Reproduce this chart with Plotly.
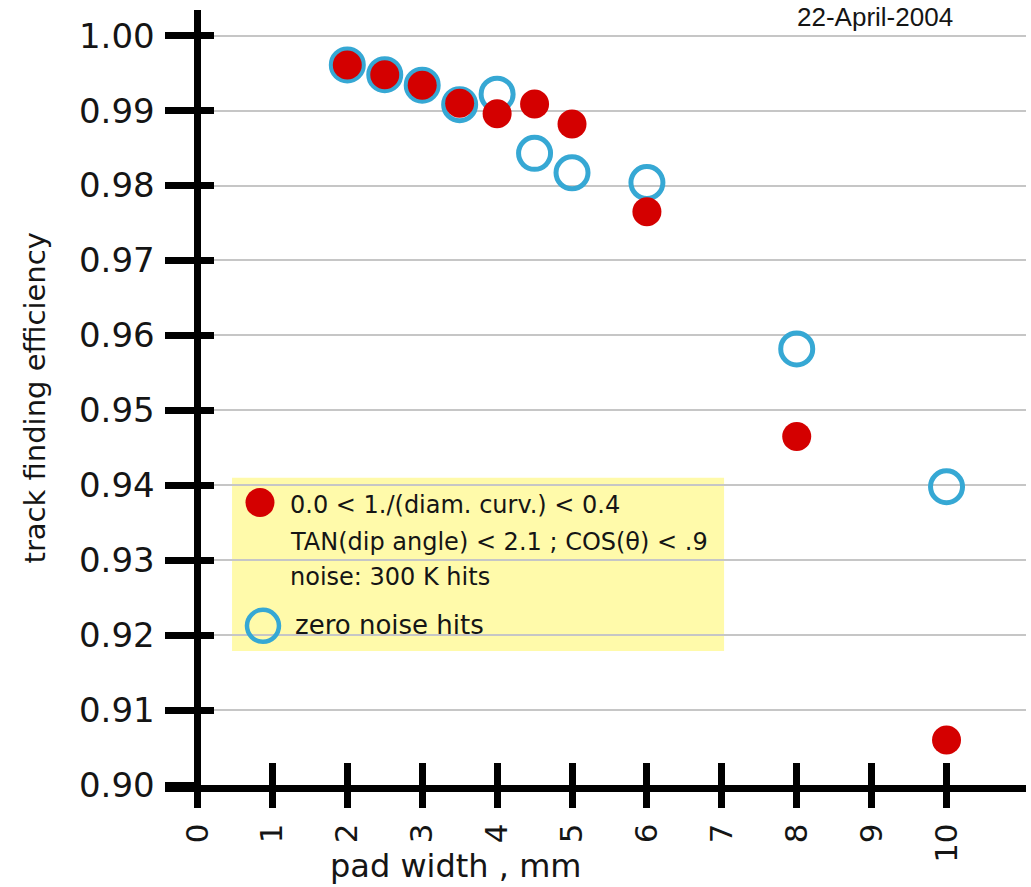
import plotly.graph_objects as go

# ---- data ----
pad_width = [2, 2.5, 3, 3.5, 4, 4.5, 5, 6, 8, 10]
eff_noise_300k = [0.9961, 0.9948, 0.9934, 0.9910, 0.9896, 0.9909, 0.9882, 0.9765, 0.9465, 0.9060]
eff_zero_noise = [0.9961, 0.9948, 0.9934, 0.9908, 0.9922, 0.9843, 0.9817, 0.9804, 0.9582, 0.9398]
x_tick_vals = [0, 1, 2, 3, 4, 5, 6, 7, 8, 9, 10]
y_tick_vals = [0.90, 0.91, 0.92, 0.93, 0.94, 0.95, 0.96, 0.97, 0.98, 0.99, 1.00]
y_tick_text = ["0.90", "0.91", "0.92", "0.93", "0.94", "0.95", "0.96", "0.97", "0.98", "0.99", "1.00"]
legend_lines = ["0.0 < 1./(diam. curv.) < 0.4",
                "TAN(dip angle) < 2.1 ; COS(θ) < .9",
                "noise: 300 K hits"]
legend_zero = "zero noise hits"
date_text = "22-April-2004"
x_title = "pad width , mm"
y_title = "track finding efficiency"

RED = "#d40000"
BLUE = "#36a8d4"
YELLOW = "#fffaaa"
FONT = "DejaVu Sans"
TXT = "#151515"

X_RANGE = [-0.434, 11.061]
Y_RANGE = [0.90, 1.00343]
YPOS = 0.0377

fig = go.Figure()
fig.add_trace(go.Scatter(
    x=pad_width, y=eff_zero_noise, mode="markers", name=legend_zero,
    marker=dict(symbol="circle-open", size=32, color=BLUE, line=dict(width=5, color=BLUE)),
    showlegend=False, hoverinfo="skip"))
fig.add_trace(go.Scatter(
    x=pad_width, y=eff_noise_300k, mode="markers", name=legend_lines[2],
    marker=dict(symbol="circle", size=29, color=RED, line=dict(width=0)),
    showlegend=False, hoverinfo="skip"))
# empty trace that creates the overlay axes used for the inner half of the ticks
fig.add_trace(go.Scatter(x=[], y=[], xaxis="x2", yaxis="y2", showlegend=False, hoverinfo="skip"))

fig.update_layout(
    width=1031, height=887,
    margin=dict(l=165, r=5, t=10, b=102),
    paper_bgcolor="white", plot_bgcolor="white",
    showlegend=False,
    xaxis=dict(range=X_RANGE, domain=[0, 1], anchor="y", tickmode="array", tickvals=x_tick_vals,
               ticks="outside", ticklen=16, tickwidth=7, tickcolor="black",
               showline=True, linewidth=7, linecolor="black",
               showgrid=False, zeroline=True, zerolinecolor="black", zerolinewidth=7,
               tickangle=-90, tickfont=dict(family=FONT, size=31, color=TXT),
               ticklabelstandoff=3, fixedrange=True),
    yaxis=dict(range=Y_RANGE, anchor="free", position=YPOS, tickmode="array",
               tickvals=y_tick_vals, ticktext=y_tick_text,
               ticks="outside", ticklen=32, tickwidth=7, tickcolor="black",
               showline=False, showgrid=True, gridcolor="#c6c6c6", gridwidth=1.5,
               zeroline=False, tickfont=dict(family=FONT, size=34, color=TXT),
               ticklabelstandoff=4, fixedrange=True),
    xaxis2=dict(overlaying="x", matches="x", anchor="y2", tickmode="array", tickvals=x_tick_vals,
                ticks="inside", ticklen=22, tickwidth=7, tickcolor="black",
                showticklabels=False, showgrid=False, zeroline=False, showline=False),
    yaxis2=dict(overlaying="y", matches="y", anchor="free", position=YPOS, tickmode="array",
                tickvals=y_tick_vals, ticks="inside", ticklen=16, tickwidth=7, tickcolor="black",
                showticklabels=False, showgrid=False, zeroline=False, showline=False),
)

# legend box (custom, drawn as a yellow panel)
shapes = [
    dict(type="rect", xref="x", yref="y", x0=0.461, x1=7.03, y0=0.9179, y1=0.9410,
         fillcolor=YELLOW, line=dict(width=0), layer="below"),
    dict(type="circle", xref="x", yref="y", xsizemode="pixel", ysizemode="pixel",
         xanchor=0.834, yanchor=0.93769, x0=-14.5, x1=14.5, y0=-14.5, y1=14.5,
         fillcolor=RED, line=dict(width=0)),
    dict(type="circle", xref="x", yref="y", xsizemode="pixel", ysizemode="pixel",
         xanchor=0.874, yanchor=0.92124, x0=-16, x1=16, y0=-16, y1=16,
         fillcolor="rgba(0,0,0,0)", line=dict(width=4.5, color=BLUE)),
]
fig.update_layout(shapes=shapes)

annotations = []
for txt, yv in zip(legend_lines, [0.93742, 0.93249, 0.92782]):
    annotations.append(dict(text=txt, x=1.208, y=yv, xref="x", yref="y", xanchor="left",
                            yanchor="middle", showarrow=False,
                            font=dict(family=FONT, size=24, color=TXT)))
annotations.append(dict(text=legend_zero, x=1.275, y=0.92142, xref="x", yref="y", xanchor="left",
                        yanchor="middle", showarrow=False,
                        font=dict(family=FONT, size=26, color=TXT)))
annotations.append(dict(text=date_text, x=9.045, y=0.9910, xref="x", yref="paper",
                        xanchor="center", yanchor="middle", showarrow=False,
                        font=dict(family="Liberation Sans", size=26, color=TXT)))
annotations.append(dict(text=x_title, x=3.44, y=-0.1044, xref="x", yref="paper",
                        xanchor="center", yanchor="middle", showarrow=False,
                        font=dict(family=FONT, size=32, color=TXT)))
annotations.append(dict(text=y_title, x=-0.151, y=0.5, xref="paper", yref="paper",
                        xanchor="center", yanchor="middle", textangle=-90, showarrow=False,
                        font=dict(family=FONT, size=29, color=TXT)))
fig.update_layout(annotations=annotations)

fig.write_html("out.html", config={"displayModeBar": False})
